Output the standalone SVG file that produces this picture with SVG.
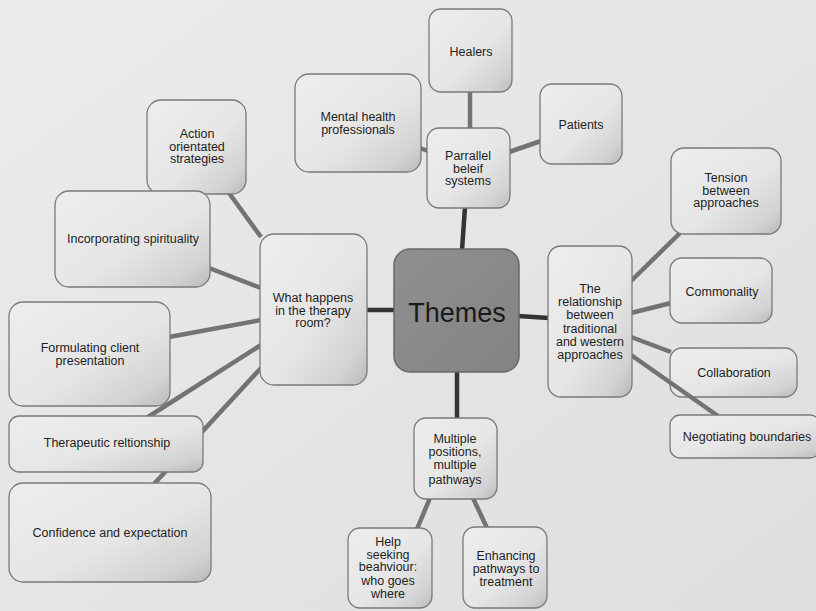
<svg xmlns="http://www.w3.org/2000/svg" width="816" height="611" viewBox="0 0 816 611">
<defs>
<linearGradient id="bg" x1="0" y1="0" x2="1" y2="1">
<stop offset="0" stop-color="#ebebeb"/>
<stop offset="0.5" stop-color="#e5e5e5"/>
<stop offset="1" stop-color="#dedede"/>
</linearGradient>
<linearGradient id="box" x1="0" y1="0" x2="1" y2="1">
<stop offset="0" stop-color="#ededed"/>
<stop offset="0.55" stop-color="#e6e6e6"/>
<stop offset="0.85" stop-color="#d2d2d2"/>
<stop offset="1" stop-color="#b9b9b9"/>
</linearGradient>
<linearGradient id="core" x1="0" y1="0" x2="1" y2="1">
<stop offset="0" stop-color="#909090"/>
<stop offset="1" stop-color="#838383"/>
</linearGradient>
</defs>
<style>
.n rect{fill:url(#box);stroke:#7a7a7a;stroke-width:1.3}
.n text{font-family:"Liberation Sans",Arial,sans-serif;font-size:12.5px;fill:#1e1e1e;text-anchor:middle}
#themes rect{fill:url(#core);stroke:#686868;stroke-width:1.5}
#themes text{font-size:27px;fill:#1a1a1a}
.c line{stroke:#737373;stroke-width:4.5;stroke-linecap:butt}
.c line.d{stroke:#333333;stroke-width:4.5}
</style>
<rect width="816" height="611" fill="url(#bg)"/>

<g id="collaboration" class="n"><rect x="670" y="348" width="127" height="49" rx="12"/><text x="734" y="377">Collaboration</text></g>

<g id="connectors" class="c">
<line class="d" x1="462" y1="250" x2="465" y2="207"/>
<line class="d" x1="366" y1="310" x2="395" y2="310"/>
<line class="d" x1="518" y1="316" x2="549" y2="318"/>
<line class="d" x1="457" y1="371" x2="457" y2="419"/>
<line x1="470" y1="91" x2="470" y2="129"/>
<line x1="509" y1="152" x2="541" y2="141"/>
<line x1="420" y1="148" x2="428" y2="151"/>
<line x1="229" y1="193" x2="261" y2="237"/>
<line x1="209" y1="268" x2="261" y2="288"/>
<line x1="169" y1="337" x2="261" y2="320"/>
<line x1="261" y1="345" x2="148" y2="417"/>
<line x1="261" y1="368" x2="154" y2="484"/>
<line x1="631" y1="281" x2="680" y2="233"/>
<line x1="631" y1="313" x2="671" y2="303"/>
<line x1="631" y1="337" x2="671" y2="352"/>
<line x1="631" y1="355" x2="718" y2="416"/>
<line x1="430" y1="498" x2="417" y2="529"/>
<line x1="473" y1="498" x2="487" y2="528"/>
</g>

<g id="themes" class="n"><rect x="394" y="249" width="125" height="123" rx="16"/><text x="457" y="322">Themes</text></g>

<g id="parallel" class="n"><rect x="427" y="128" width="83" height="80" rx="12"/><text x="468" y="160">Parrallel</text><text x="468" y="172.5">beleif</text><text x="468" y="185">systems</text></g>
<g id="healers" class="n"><rect x="429" y="9" width="83" height="83" rx="12"/><text x="471" y="56">Healers</text></g>
<g id="patients" class="n"><rect x="540" y="84" width="82" height="80" rx="12"/><text x="581" y="129">Patients</text></g>
<g id="mental" class="n"><rect x="295" y="74" width="126" height="98" rx="14"/><text x="358" y="121">Mental health</text><text x="358" y="134">professionals</text></g>

<g id="therapy" class="n"><rect x="260" y="234" width="107" height="151" rx="14"/><text x="313" y="302">What happens</text><text x="313" y="314.5">in the therapy</text><text x="313" y="327">room?</text></g>
<g id="action" class="n"><rect x="147" y="100" width="99" height="94" rx="14"/><text x="197" y="138">Action</text><text x="197" y="150.5">orientated</text><text x="197" y="163">strategies</text></g>
<g id="spirituality" class="n"><rect x="55" y="191" width="155" height="96" rx="14"/><text x="133" y="243">Incorporating spirituality</text></g>
<g id="formulating" class="n"><rect x="9" y="302" width="161" height="104" rx="14"/><text x="90" y="352">Formulating client</text><text x="90" y="364.5">presentation</text></g>
<g id="therapeutic" class="n"><rect x="9" y="416" width="194" height="56" rx="10"/><text x="107" y="447">Therapeutic reltionship</text></g>
<g id="confidence" class="n"><rect x="9" y="483" width="202" height="99" rx="14"/><text x="110" y="537">Confidence and expectation</text></g>

<g id="relationship" class="n"><rect x="548" y="246" width="84" height="151" rx="13"/><text x="590" y="293">The</text><text x="590" y="306">relationship</text><text x="590" y="319">between</text><text x="590" y="333">traditional</text><text x="590" y="346">and western</text><text x="590" y="359">approaches</text></g>
<g id="tension" class="n"><rect x="671" y="148" width="110" height="86" rx="13"/><text x="726" y="182">Tension</text><text x="726" y="194.5">between</text><text x="726" y="207">approaches</text></g>
<g id="commonality" class="n"><rect x="670" y="258" width="102" height="65" rx="12"/><text x="722" y="296">Commonality</text></g>
<g id="negotiating" class="n"><rect x="670" y="415" width="150" height="43" rx="10"/><text x="747" y="441">Negotiating boundaries</text></g>

<g id="multiple" class="n"><rect x="414" y="418" width="83" height="81" rx="12"/><text x="455" y="443">Multiple</text><text x="455" y="456">positions,</text><text x="455" y="469">multiple</text><text x="455" y="484">pathways</text></g>
<g id="help" class="n"><rect x="348" y="528" width="84" height="80" rx="12"/><text x="388" y="546">Help</text><text x="388" y="558.5">seeking</text><text x="388" y="571">beahviour:</text><text x="388" y="585">who goes</text><text x="388" y="598">where</text></g>
<g id="enhancing" class="n"><rect x="463" y="527" width="84" height="81" rx="12"/><text x="506" y="560">Enhancing</text><text x="506" y="572.5">pathways to</text><text x="506" y="586">treatment</text></g>
</svg>
